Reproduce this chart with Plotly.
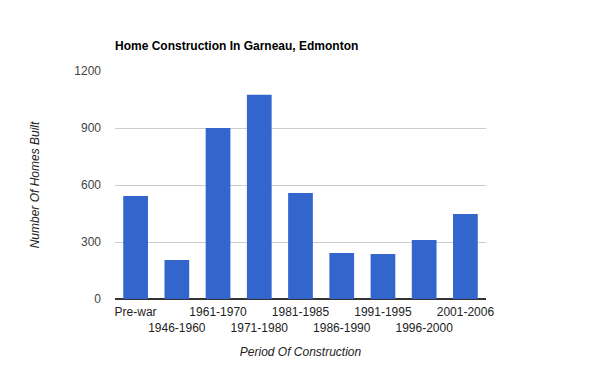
import plotly.graph_objects as go

categories = ["Pre-war", "1946-1960", "1961-1970", "1971-1980", "1981-1985",
              "1986-1990", "1991-1995", "1996-2000", "2001-2006"]
homes_built = [542, 205, 900, 1075, 558, 242, 237, 311, 447]
y_ticks = [0, 300, 600, 900, 1200]

# alternate tick labels onto two rows
tick_text = [c if i % 2 == 0 else "<br>" + c for i, c in enumerate(categories)]

fig = go.Figure(go.Bar(
    x=categories, y=homes_built,
    marker=dict(color="#3366cc", line=dict(width=0)),
))

font = "Liberation Sans, Arial, sans-serif"
fig.update_layout(
    width=600, height=371,
    margin=dict(l=107, r=122, t=63, b=80),
    paper_bgcolor="white", plot_bgcolor="white",
    bargap=0.4,
    showlegend=False,
    font=dict(family=font, size=12, color="#444444"),
    title=dict(text="<b>Home Construction In Garneau, Edmonton</b>",
               x=0, xanchor="left", xref="paper",
               y=1 - 38/371, yanchor="middle", yref="container",
               font=dict(family=font, size=12, color="#000000")),
)
fig.update_xaxes(
    tickvals=categories, ticktext=tick_text, tickangle=0, automargin=False,
    showgrid=False, showline=False, zeroline=False, ticks="",
    ticklabelstandoff=4,
    tickfont=dict(family=font, size=12, color="#222222"),
    title=dict(text="Period Of Construction", standoff=14,
               font=dict(family=font, size=12, color="#222222", style="italic")),
)
fig.update_yaxes(
    range=[0, 1200], tickvals=y_ticks, automargin=False,
    showgrid=True, gridcolor="#cccccc", gridwidth=1,
    zeroline=True, zerolinecolor="#333333", zerolinewidth=1.5,
    showline=False, ticks="", ticklabelstandoff=13,
    tickfont=dict(family=font, size=12, color="#444444"),
    title=dict(text="Number Of Homes Built", standoff=32,
               font=dict(family=font, size=12, color="#222222", style="italic")),
)

fig.write_html("out.html")
